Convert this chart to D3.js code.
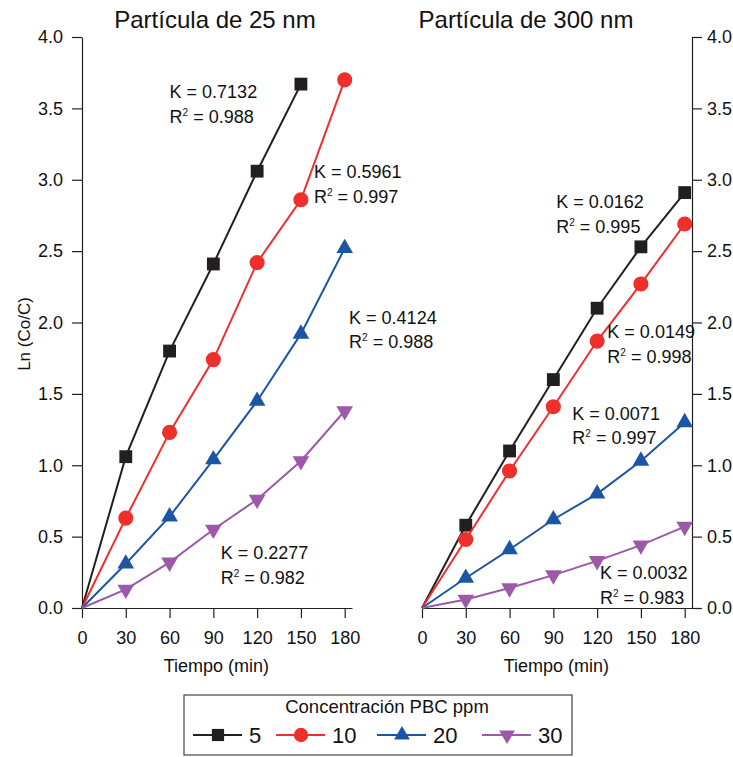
<!DOCTYPE html>
<html>
<head>
<meta charset="utf-8">
<script src="https://cdn.jsdelivr.net/npm/d3@7"></script>
<style>
  body { margin: 0; background: #fff; }
  svg { font-family: "Liberation Sans", Arial, Helvetica, sans-serif; }
</style>
</head>
<body>
<div id="chart"></div>
<script>
// Tiempo (min)
const times = [0, 30, 60, 90, 120, 150, 180];
const concentrations = ["5", "10", "20", "30"];
const yTicks = [0, 0.5, 1.0, 1.5, 2.0, 2.5, 3.0, 3.5, 4.0];

// Partícula de 25 nm  (null = no measurement)
const p25_c5  = [0, 1.06, 1.80, 2.41, 3.06, 3.67, null];
const p25_c10 = [0, 0.63, 1.23, 1.74, 2.42, 2.86, 3.70];
const p25_c20 = [0, 0.31, 0.64, 1.04, 1.45, 1.92, 2.52];
const p25_c30 = [0, 0.13, 0.32, 0.55, 0.76, 1.03, 1.38];

// Partícula de 300 nm
const p300_c5  = [0, 0.58, 1.10, 1.60, 2.10, 2.53, 2.91];
const p300_c10 = [0, 0.48, 0.96, 1.41, 1.87, 2.27, 2.69];
const p300_c20 = [0, 0.21, 0.41, 0.62, 0.80, 1.03, 1.30];
const p300_c30 = [0, 0.06, 0.14, 0.23, 0.33, 0.44, 0.57];

// fitted constants
const k25  = ["0.7132", "0.5961", "0.4124", "0.2277"];
const r25  = ["0.988", "0.997", "0.988", "0.982"];
const k300 = ["0.0162", "0.0149", "0.0071", "0.0032"];
const r300 = ["0.995", "0.998", "0.997", "0.983"];

const colors = ["#231f20", "#ee2f2b", "#1d55a5", "#9b59a7"];
const symbols = [d3.symbolSquare, d3.symbolCircle, d3.symbolTriangle, d3.symbolTriangle];
const symSizes = [165, 180, 120, 120];
const symRotate = [0, 0, 0, 180];

const W = 733, H = 757;
const svg = d3.select("#chart").append("svg")
    .attr("width", W).attr("height", H);

const plotTop = 37, plotBottom = 608;

function panel(opts) {
    const x = d3.scaleLinear().domain([0, 185]).range([opts.x0, opts.x0 + 270]);
    const y = d3.scaleLinear().domain([0, 4]).range([plotBottom, plotTop]);

    const g = svg.append("g");

    // x axis
    const xAxis = g.append("g")
        .attr("transform", `translate(0,${plotBottom})`)
        .call(d3.axisBottom(x).tickValues(times).tickSize(10).tickSizeOuter(0).tickPadding(13));
    xAxis.selectAll("text").style("font-size", "18px").attr("fill", "#111");
    xAxis.selectAll("line, path").attr("stroke", "#231f20").attr("stroke-width", 1.2);

    // y axis
    const yAx = opts.right
        ? d3.axisRight(y).tickPadding(5)
        : d3.axisLeft(y).tickPadding(9);
    const yAxis = g.append("g")
        .attr("transform", `translate(${opts.right ? x(185) : x(0)},0)`)
        .call(yAx.tickValues(yTicks).tickFormat(d3.format(".1f")).tickSize(10).tickSizeOuter(0));
    yAxis.selectAll("text").style("font-size", "18px").attr("fill", "#111");
    yAxis.selectAll("line, path").attr("stroke", "#231f20").attr("stroke-width", 1.2);

    // title
    g.append("text")
        .attr("x", opts.titleX).attr("y", 28)
        .attr("text-anchor", "middle")
        .style("font-size", "24px")
        .attr("fill", "#111")
        .text(opts.title);

    // x label
    g.append("text")
        .attr("x", (x(0) + x(180)) / 2 + 3).attr("y", 672)
        .attr("text-anchor", "middle")
        .style("font-size", "18px")
        .attr("fill", "#111")
        .text("Tiempo (min)");

    const line = d3.line()
        .defined(d => d.v !== null)
        .x(d => x(d.t))
        .y(d => y(d.v));

    opts.series.forEach((vals, i) => {
        const pts = vals.map((v, j) => ({ t: times[j], v: v }));
        g.append("path")
            .datum(pts)
            .attr("fill", "none")
            .attr("stroke", colors[i])
            .attr("stroke-width", 2)
            .attr("d", line);

        g.selectAll(".m" + i)
            .data(pts.filter(d => d.v !== null && d.t > 0))
            .enter().append("path")
            .attr("class", "m" + i)
            .attr("d", d3.symbol().type(symbols[i]).size(symSizes[i]))
            .attr("fill", colors[i])
            .attr("transform", d => `translate(${x(d.t)},${y(d.v)}) rotate(${symRotate[i]})`);
    });

    // K / R² annotations
    opts.labels.forEach((p, i) => {
        const t = g.append("text")
            .attr("x", x(p[0])).attr("y", y(p[1]))
            .style("font-size", "18px")
            .attr("fill", "#111");
        t.append("tspan").text("K = " + opts.k[i]);
        const r = g.append("text")
            .attr("x", x(p[0])).attr("y", y(p[1]) + 24.5)
            .style("font-size", "18px")
            .attr("fill", "#111");
        r.append("tspan").text("R");
        r.append("tspan").attr("dy", -7).style("font-size", "10px").text("2");
        r.append("tspan").attr("dy", 7).text(" = " + opts.r[i]);
    });
}

panel({
    x0: 82, right: false, title: "Partícula de 25 nm", titleX: 215,
    series: [p25_c5, p25_c10, p25_c20, p25_c30],
    k: k25, r: r25,
    labels: [[60, 3.57], [159, 3.01], [183, 1.99], [95, 0.34]]
});

panel({
    x0: 422, right: true, title: "Partícula de 300 nm", titleX: 526,
    series: [p300_c5, p300_c10, p300_c20, p300_c30],
    k: k300, r: r300,
    labels: [[92, 2.80], [127, 1.89], [103, 1.32], [122, 0.20]]
});

// y label
svg.append("text")
    .attr("transform", "translate(30,334) rotate(-90)")
    .attr("text-anchor", "middle")
    .style("font-size", "17px")
    .attr("fill", "#111")
    .text("Ln (Co/C)");

// legend
const legend = svg.append("g").attr("transform", "translate(184,695)");
legend.append("rect")
    .attr("width", 388).attr("height", 60)
    .attr("fill", "#fff")
    .attr("stroke", "#444")
    .attr("stroke-width", 1.2);
legend.append("text")
    .attr("x", 203).attr("y", 18)
    .attr("text-anchor", "middle")
    .style("font-size", "18.5px")
    .attr("fill", "#111")
    .text("Concentración PBC ppm");

const legendX = [9, 92, 193, 298];
const item = legend.selectAll(".item")
    .data(concentrations)
    .enter().append("g")
    .attr("transform", (d, i) => `translate(${legendX[i]},40)`);
item.append("line")
    .attr("x1", 0).attr("x2", 49)
    .attr("stroke", (d, i) => colors[i])
    .attr("stroke-width", 2);
item.append("path")
    .attr("d", (d, i) => d3.symbol().type(symbols[i]).size(symSizes[i] * 0.9)())
    .attr("fill", (d, i) => colors[i])
    .attr("transform", (d, i) => `translate(25,0) rotate(${symRotate[i]})`);
item.append("text")
    .attr("x", 56).attr("y", 8)
    .style("font-size", "22px")
    .attr("fill", "#111")
    .text(d => d);
</script>
</body>
</html>
